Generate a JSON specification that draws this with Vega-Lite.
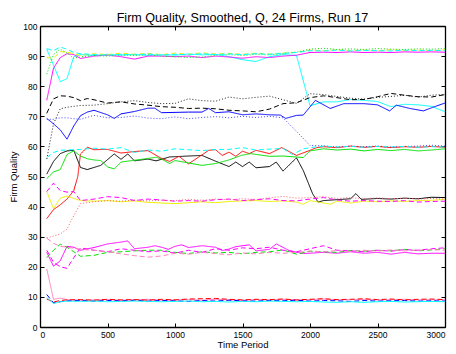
{
"$schema":"https://vega.github.io/schema/vega-lite/v6.json",
"autosize":{"type":"none"},
"width":405,"height":301,
"padding":{"left":40,"top":26,"right":11,"bottom":27},
"background":"white",
"title":{"text":"Firm Quality, Smoothed, Q, 24 Firms, Run 17","fontSize":12.6,"fontWeight":"normal","font":"Liberation Sans","color":"black","anchor":"middle","offset":-3},
"config":{"view":{"stroke":null},"axis":{"labelFont":"Liberation Sans","titleFont":"Liberation Sans","labelColor":"black","titleColor":"black","domainColor":"black","tickColor":"black","grid":false,"labelFontSize":8.5,"titleFontSize":9.5,"titleFontWeight":"normal","domainWidth":1.3,"tickWidth":1}},
"data":{"values":[
{"s":"a","t":50,"q":92.3},{"s":"a","t":100,"q":87},{"s":"a","t":150,"q":81.5},{"s":"a","t":200,"q":82.5},{"s":"a","t":250,"q":89.8},{"s":"a","t":300,"q":90.5},{"s":"a","t":400,"q":90.2},{"s":"a","t":500,"q":90.6},{"s":"a","t":600,"q":90.3},{"s":"a","t":700,"q":90.6},{"s":"a","t":800,"q":90.2},{"s":"a","t":900,"q":90.5},{"s":"a","t":1000,"q":90.3},{"s":"a","t":1100,"q":90.7},{"s":"a","t":1200,"q":90.4},{"s":"a","t":1300,"q":90.6},{"s":"a","t":1400,"q":89.8},{"s":"a","t":1500,"q":88.8},{"s":"a","t":1600,"q":88.2},{"s":"a","t":1700,"q":89.8},{"s":"a","t":1800,"q":90.5},{"s":"a","t":1900,"q":90.2},{"s":"a","t":2000,"q":73.5},{"s":"a","t":2100,"q":74.8},{"s":"a","t":2200,"q":74.8},{"s":"a","t":2300,"q":75.6},{"s":"a","t":2400,"q":75.3},{"s":"a","t":2500,"q":74.9},{"s":"a","t":2600,"q":73.2},{"s":"a","t":2700,"q":74},{"s":"a","t":2800,"q":73.8},{"s":"a","t":2900,"q":73.3},{"s":"a","t":3000,"q":71.5},
{"s":"b","t":50,"q":75.3},{"s":"b","t":100,"q":86},{"s":"b","t":150,"q":89.5},{"s":"b","t":200,"q":90.8},{"s":"b","t":250,"q":90.5},{"s":"b","t":300,"q":89.2},{"s":"b","t":400,"q":90},{"s":"b","t":500,"q":90.3},{"s":"b","t":600,"q":89.8},{"s":"b","t":700,"q":89},{"s":"b","t":800,"q":90},{"s":"b","t":900,"q":90},{"s":"b","t":1000,"q":89.8},{"s":"b","t":1100,"q":90},{"s":"b","t":1200,"q":89.5},{"s":"b","t":1300,"q":90},{"s":"b","t":1400,"q":89.7},{"s":"b","t":1500,"q":89.3},{"s":"b","t":1600,"q":89.8},{"s":"b","t":1700,"q":89.5},{"s":"b","t":1800,"q":90},{"s":"b","t":1900,"q":90.3},{"s":"b","t":2000,"q":91.2},{"s":"b","t":2100,"q":91.3},{"s":"b","t":2200,"q":91.2},{"s":"b","t":2300,"q":91.4},{"s":"b","t":2400,"q":91.2},{"s":"b","t":2500,"q":91.3},{"s":"b","t":2600,"q":91.2},{"s":"b","t":2700,"q":91.4},{"s":"b","t":2800,"q":91.3},{"s":"b","t":2900,"q":91.4},{"s":"b","t":3000,"q":91.3},
{"s":"c","t":50,"q":89.5},{"s":"c","t":100,"q":89.3},{"s":"c","t":150,"q":91.5},{"s":"c","t":200,"q":91.3},{"s":"c","t":250,"q":90.8},{"s":"c","t":300,"q":90.2},{"s":"c","t":400,"q":90.8},{"s":"c","t":500,"q":90.5},{"s":"c","t":600,"q":91},{"s":"c","t":700,"q":90.6},{"s":"c","t":800,"q":90.9},{"s":"c","t":900,"q":90.5},{"s":"c","t":1000,"q":91},{"s":"c","t":1100,"q":90.6},{"s":"c","t":1200,"q":91.1},{"s":"c","t":1300,"q":90.7},{"s":"c","t":1400,"q":90.9},{"s":"c","t":1500,"q":90.6},{"s":"c","t":1600,"q":91},{"s":"c","t":1700,"q":90.7},{"s":"c","t":1800,"q":91},{"s":"c","t":1900,"q":91.3},{"s":"c","t":2000,"q":92},{"s":"c","t":2100,"q":91.8},{"s":"c","t":2200,"q":92.1},{"s":"c","t":2300,"q":91.8},{"s":"c","t":2400,"q":92},{"s":"c","t":2500,"q":91.8},{"s":"c","t":2600,"q":92.1},{"s":"c","t":2700,"q":91.9},{"s":"c","t":2800,"q":92},{"s":"c","t":2900,"q":91.8},{"s":"c","t":3000,"q":92.1},
{"s":"d","t":50,"q":84},{"s":"d","t":100,"q":90.5},{"s":"d","t":150,"q":92.3},{"s":"d","t":200,"q":91},{"s":"d","t":250,"q":89.3},{"s":"d","t":300,"q":89.7},{"s":"d","t":400,"q":90.2},{"s":"d","t":500,"q":90},{"s":"d","t":600,"q":90.4},{"s":"d","t":700,"q":90.2},{"s":"d","t":800,"q":90.5},{"s":"d","t":900,"q":90},{"s":"d","t":1000,"q":89.8},{"s":"d","t":1100,"q":89.5},{"s":"d","t":1200,"q":89.7},{"s":"d","t":1300,"q":90.3},{"s":"d","t":1400,"q":90.5},{"s":"d","t":1500,"q":90.2},{"s":"d","t":1600,"q":90.6},{"s":"d","t":1700,"q":90.4},{"s":"d","t":1800,"q":90.8},{"s":"d","t":1900,"q":91.3},{"s":"d","t":2000,"q":92.3},{"s":"d","t":2100,"q":92.6},{"s":"d","t":2200,"q":92.2},{"s":"d","t":2300,"q":92.4},{"s":"d","t":2400,"q":92.2},{"s":"d","t":2500,"q":92.5},{"s":"d","t":2600,"q":92.3},{"s":"d","t":2700,"q":92.2},{"s":"d","t":2800,"q":92.4},{"s":"d","t":2900,"q":92.3},{"s":"d","t":3000,"q":92.5},
{"s":"e","t":50,"q":92.5},{"s":"e","t":100,"q":91.8},{"s":"e","t":150,"q":93},{"s":"e","t":200,"q":92.3},{"s":"e","t":250,"q":91.2},{"s":"e","t":300,"q":90.8},{"s":"e","t":400,"q":90.5},{"s":"e","t":500,"q":90.3},{"s":"e","t":600,"q":90.6},{"s":"e","t":700,"q":90.4},{"s":"e","t":800,"q":90.7},{"s":"e","t":900,"q":90.3},{"s":"e","t":1000,"q":90.6},{"s":"e","t":1100,"q":90.4},{"s":"e","t":1200,"q":90.8},{"s":"e","t":1300,"q":90.5},{"s":"e","t":1400,"q":90.7},{"s":"e","t":1500,"q":90.5},{"s":"e","t":1600,"q":90.8},{"s":"e","t":1700,"q":90.6},{"s":"e","t":1800,"q":90.9},{"s":"e","t":1900,"q":91.2},{"s":"e","t":2000,"q":91.8},{"s":"e","t":2100,"q":91.7},{"s":"e","t":2200,"q":92},{"s":"e","t":2300,"q":91.7},{"s":"e","t":2400,"q":91.9},{"s":"e","t":2500,"q":91.8},{"s":"e","t":2600,"q":91.7},{"s":"e","t":2700,"q":92},{"s":"e","t":2800,"q":91.8},{"s":"e","t":2900,"q":91.9},{"s":"e","t":3000,"q":91.8},
{"s":"f","t":50,"q":71},{"s":"f","t":100,"q":75.8},{"s":"f","t":150,"q":76.8},{"s":"f","t":200,"q":76.7},{"s":"f","t":250,"q":76.2},{"s":"f","t":300,"q":75.2},{"s":"f","t":350,"q":75.9},{"s":"f","t":400,"q":75.5},{"s":"f","t":500,"q":74.4},{"s":"f","t":600,"q":74.8},{"s":"f","t":700,"q":74.1},{"s":"f","t":800,"q":73.7},{"s":"f","t":900,"q":73.2},{"s":"f","t":1000,"q":73},{"s":"f","t":1100,"q":72.6},{"s":"f","t":1200,"q":72.7},{"s":"f","t":1300,"q":72.5},{"s":"f","t":1400,"q":72},{"s":"f","t":1500,"q":71.8},{"s":"f","t":1600,"q":71.5},{"s":"f","t":1700,"q":72.4},{"s":"f","t":1800,"q":74.2},{"s":"f","t":1900,"q":74.5},{"s":"f","t":2000,"q":76.2},{"s":"f","t":2100,"q":76.8},{"s":"f","t":2200,"q":76.2},{"s":"f","t":2300,"q":75.5},{"s":"f","t":2400,"q":75.6},{"s":"f","t":2500,"q":76.5},{"s":"f","t":2600,"q":77.6},{"s":"f","t":2700,"q":77},{"s":"f","t":2800,"q":76.5},{"s":"f","t":2900,"q":76.4},{"s":"f","t":3000,"q":77.2},
{"s":"g","t":50,"q":55.8},{"s":"g","t":100,"q":67.5},{"s":"g","t":150,"q":72.5},{"s":"g","t":200,"q":73},{"s":"g","t":250,"q":73.3},{"s":"g","t":300,"q":73.6},{"s":"g","t":400,"q":73.7},{"s":"g","t":500,"q":74.2},{"s":"g","t":600,"q":74.8},{"s":"g","t":700,"q":75.2},{"s":"g","t":800,"q":74.6},{"s":"g","t":900,"q":74.2},{"s":"g","t":1000,"q":74.3},{"s":"g","t":1100,"q":75.8},{"s":"g","t":1200,"q":75.2},{"s":"g","t":1300,"q":75},{"s":"g","t":1400,"q":76.4},{"s":"g","t":1500,"q":75.8},{"s":"g","t":1600,"q":76.3},{"s":"g","t":1700,"q":76.7},{"s":"g","t":1800,"q":75.5},{"s":"g","t":1900,"q":74.3},{"s":"g","t":2000,"q":77.5},{"s":"g","t":2100,"q":77.2},{"s":"g","t":2200,"q":76.6},{"s":"g","t":2300,"q":76},{"s":"g","t":2400,"q":75.7},{"s":"g","t":2500,"q":76.3},{"s":"g","t":2600,"q":76.6},{"s":"g","t":2700,"q":77},{"s":"g","t":2800,"q":76.4},{"s":"g","t":2900,"q":77},{"s":"g","t":3000,"q":77.3},
{"s":"h","t":50,"q":69.3},{"s":"h","t":100,"q":67.5},{"s":"h","t":150,"q":65.5},{"s":"h","t":200,"q":62.4},{"s":"h","t":250,"q":66.8},{"s":"h","t":300,"q":70.2},{"s":"h","t":350,"q":71.4},{"s":"h","t":400,"q":72},{"s":"h","t":500,"q":70.5},{"s":"h","t":550,"q":69.3},{"s":"h","t":600,"q":70.8},{"s":"h","t":700,"q":71.6},{"s":"h","t":800,"q":72.7},{"s":"h","t":850,"q":72.7},{"s":"h","t":900,"q":71.2},{"s":"h","t":1000,"q":71.3},{"s":"h","t":1100,"q":71.4},{"s":"h","t":1200,"q":71.4},{"s":"h","t":1250,"q":72.6},{"s":"h","t":1300,"q":71.2},{"s":"h","t":1400,"q":71.5},{"s":"h","t":1500,"q":70.5},{"s":"h","t":1600,"q":70.8},{"s":"h","t":1700,"q":70.5},{"s":"h","t":1780,"q":70.4},{"s":"h","t":1820,"q":69.3},{"s":"h","t":1900,"q":70.3},{"s":"h","t":1950,"q":70.4},{"s":"h","t":2040,"q":75.3},{"s":"h","t":2150,"q":72.6},{"s":"h","t":2250,"q":74.2},{"s":"h","t":2400,"q":74.2},{"s":"h","t":2500,"q":73.8},{"s":"h","t":2590,"q":71.8},{"s":"h","t":2640,"q":73.7},{"s":"h","t":2740,"q":72.6},{"s":"h","t":2840,"q":71.8},{"s":"h","t":2910,"q":73},{"s":"h","t":3000,"q":74.4},
{"s":"i","t":50,"q":69},{"s":"i","t":100,"q":69},{"s":"i","t":150,"q":69.5},{"s":"i","t":200,"q":69.5},{"s":"i","t":250,"q":69.2},{"s":"i","t":300,"q":69},{"s":"i","t":400,"q":70.3},{"s":"i","t":500,"q":69.5},{"s":"i","t":600,"q":69.6},{"s":"i","t":700,"q":70.1},{"s":"i","t":800,"q":69.4},{"s":"i","t":900,"q":69.2},{"s":"i","t":1000,"q":69.8},{"s":"i","t":1100,"q":69.2},{"s":"i","t":1200,"q":69.6},{"s":"i","t":1300,"q":69.9},{"s":"i","t":1400,"q":69.5},{"s":"i","t":1500,"q":70},{"s":"i","t":1600,"q":69.6},{"s":"i","t":1700,"q":70},{"s":"i","t":1800,"q":69.5},{"s":"i","t":1900,"q":65},{"s":"i","t":2000,"q":60.3},{"s":"i","t":2100,"q":60.2},{"s":"i","t":2200,"q":59.8},{"s":"i","t":2300,"q":60.1},{"s":"i","t":2400,"q":59.9},{"s":"i","t":2500,"q":60.1},{"s":"i","t":2600,"q":59.8},{"s":"i","t":2700,"q":60},{"s":"i","t":2800,"q":60.1},{"s":"i","t":2900,"q":60.4},{"s":"i","t":3000,"q":60.1},
{"s":"j","t":50,"q":50.8},{"s":"j","t":100,"q":55},{"s":"j","t":150,"q":57.6},{"s":"j","t":200,"q":58.5},{"s":"j","t":250,"q":58.7},{"s":"j","t":300,"q":53},{"s":"j","t":350,"q":52.3},{"s":"j","t":400,"q":53},{"s":"j","t":450,"q":53.7},{"s":"j","t":550,"q":57.5},{"s":"j","t":600,"q":55.7},{"s":"j","t":650,"q":57.5},{"s":"j","t":700,"q":55.2},{"s":"j","t":800,"q":55.8},{"s":"j","t":860,"q":55.2},{"s":"j","t":960,"q":56.5},{"s":"j","t":1100,"q":56.8},{"s":"j","t":1200,"q":57},{"s":"j","t":1300,"q":55.1},{"s":"j","t":1400,"q":53.3},{"s":"j","t":1450,"q":54.8},{"s":"j","t":1500,"q":53.3},{"s":"j","t":1550,"q":54.8},{"s":"j","t":1600,"q":52.9},{"s":"j","t":1700,"q":53.3},{"s":"j","t":1750,"q":54.8},{"s":"j","t":1800,"q":51.8},{"s":"j","t":1900,"q":56.2},{"s":"j","t":1950,"q":52},{"s":"j","t":2020,"q":44.2},{"s":"j","t":2060,"q":41.5},{"s":"j","t":2100,"q":42},{"s":"j","t":2200,"q":42.3},{"s":"j","t":2300,"q":42.6},{"s":"j","t":2340,"q":44.3},{"s":"j","t":2380,"q":42.4},{"s":"j","t":2500,"q":42.7},{"s":"j","t":2600,"q":42.5},{"s":"j","t":2700,"q":42.8},{"s":"j","t":2800,"q":42.6},{"s":"j","t":2900,"q":43.1},{"s":"j","t":3000,"q":43},
{"s":"k","t":50,"q":36},{"s":"k","t":100,"q":39},{"s":"k","t":150,"q":40.6},{"s":"k","t":200,"q":42.5},{"s":"k","t":250,"q":45.3},{"s":"k","t":280,"q":50},{"s":"k","t":300,"q":57.5},{"s":"k","t":350,"q":59.7},{"s":"k","t":400,"q":58.9},{"s":"k","t":500,"q":59},{"s":"k","t":600,"q":57.8},{"s":"k","t":700,"q":58.3},{"s":"k","t":800,"q":58.6},{"s":"k","t":900,"q":56},{"s":"k","t":960,"q":55},{"s":"k","t":1030,"q":56.7},{"s":"k","t":1100,"q":54.2},{"s":"k","t":1250,"q":58.7},{"s":"k","t":1300,"q":58.9},{"s":"k","t":1350,"q":57},{"s":"k","t":1400,"q":58.1},{"s":"k","t":1450,"q":56.7},{"s":"k","t":1500,"q":58.4},{"s":"k","t":1550,"q":57.6},{"s":"k","t":1600,"q":58.7},{"s":"k","t":1700,"q":57.6},{"s":"k","t":1790,"q":59.6},{"s":"k","t":1900,"q":57},{"s":"k","t":2000,"q":58.7},{"s":"k","t":2050,"q":59.6},{"s":"k","t":2100,"q":59.9},{"s":"k","t":2200,"q":59.6},{"s":"k","t":2300,"q":60.1},{"s":"k","t":2400,"q":59.7},{"s":"k","t":2500,"q":60},{"s":"k","t":2600,"q":59.6},{"s":"k","t":2700,"q":59.9},{"s":"k","t":2800,"q":59.7},{"s":"k","t":2900,"q":60},{"s":"k","t":3000,"q":59.7},
{"s":"l","t":50,"q":49.3},{"s":"l","t":100,"q":51.5},{"s":"l","t":150,"q":52.3},{"s":"l","t":200,"q":57.3},{"s":"l","t":250,"q":58.5},{"s":"l","t":300,"q":56.8},{"s":"l","t":350,"q":55.9},{"s":"l","t":400,"q":55.5},{"s":"l","t":450,"q":55.3},{"s":"l","t":500,"q":53.2},{"s":"l","t":550,"q":52.5},{"s":"l","t":600,"q":54.8},{"s":"l","t":700,"q":55.4},{"s":"l","t":800,"q":56},{"s":"l","t":860,"q":56.4},{"s":"l","t":900,"q":55.8},{"s":"l","t":960,"q":54.3},{"s":"l","t":1000,"q":55.3},{"s":"l","t":1100,"q":54.5},{"s":"l","t":1200,"q":53.7},{"s":"l","t":1300,"q":54.3},{"s":"l","t":1400,"q":55.5},{"s":"l","t":1490,"q":57},{"s":"l","t":1560,"q":57.6},{"s":"l","t":1700,"q":56.7},{"s":"l","t":1800,"q":56.8},{"s":"l","t":1950,"q":56.3},{"s":"l","t":2000,"q":58.5},{"s":"l","t":2100,"q":59.2},{"s":"l","t":2200,"q":58.8},{"s":"l","t":2300,"q":59.1},{"s":"l","t":2400,"q":58.5},{"s":"l","t":2500,"q":59},{"s":"l","t":2600,"q":58.6},{"s":"l","t":2700,"q":59},{"s":"l","t":2800,"q":58.5},{"s":"l","t":2900,"q":58.8},{"s":"l","t":3000,"q":59.2},
{"s":"m","t":50,"q":56.3},{"s":"m","t":100,"q":58},{"s":"m","t":150,"q":58.7},{"s":"m","t":200,"q":58.8},{"s":"m","t":300,"q":59},{"s":"m","t":400,"q":59.4},{"s":"m","t":500,"q":59.1},{"s":"m","t":600,"q":59.6},{"s":"m","t":700,"q":58},{"s":"m","t":800,"q":58.8},{"s":"m","t":900,"q":58.4},{"s":"m","t":1000,"q":59.2},{"s":"m","t":1100,"q":58.9},{"s":"m","t":1200,"q":58.6},{"s":"m","t":1300,"q":59},{"s":"m","t":1400,"q":59},{"s":"m","t":1500,"q":59.6},{"s":"m","t":1600,"q":58.8},{"s":"m","t":1700,"q":59.1},{"s":"m","t":1800,"q":59.3},{"s":"m","t":1870,"q":57.3},{"s":"m","t":1950,"q":59.2},{"s":"m","t":2000,"q":59.6},{"s":"m","t":2100,"q":60.1},{"s":"m","t":2200,"q":59.8},{"s":"m","t":2300,"q":60},{"s":"m","t":2400,"q":59.7},{"s":"m","t":2500,"q":60},{"s":"m","t":2600,"q":59.8},{"s":"m","t":2700,"q":60},{"s":"m","t":2800,"q":59.7},{"s":"m","t":2900,"q":59.9},{"s":"m","t":3000,"q":59.8},
{"s":"n","t":50,"q":45},{"s":"n","t":100,"q":39.3},{"s":"n","t":150,"q":42.8},{"s":"n","t":200,"q":43.5},{"s":"n","t":250,"q":42.7},{"s":"n","t":300,"q":42},{"s":"n","t":400,"q":41.8},{"s":"n","t":500,"q":42},{"s":"n","t":600,"q":41.6},{"s":"n","t":700,"q":41.9},{"s":"n","t":800,"q":41.4},{"s":"n","t":900,"q":41.2},{"s":"n","t":1000,"q":41},{"s":"n","t":1100,"q":41.3},{"s":"n","t":1200,"q":41.6},{"s":"n","t":1300,"q":41.3},{"s":"n","t":1400,"q":41.7},{"s":"n","t":1500,"q":41.9},{"s":"n","t":1600,"q":42},{"s":"n","t":1700,"q":41.7},{"s":"n","t":1800,"q":41.9},{"s":"n","t":1900,"q":41.5},{"s":"n","t":1950,"q":40.8},{"s":"n","t":2000,"q":42},{"s":"n","t":2100,"q":41.2},{"s":"n","t":2150,"q":40.8},{"s":"n","t":2200,"q":41.8},{"s":"n","t":2300,"q":41.2},{"s":"n","t":2400,"q":41.8},{"s":"n","t":2500,"q":41.6},{"s":"n","t":2600,"q":41.9},{"s":"n","t":2700,"q":41.7},{"s":"n","t":2800,"q":42},{"s":"n","t":2900,"q":42.1},{"s":"n","t":3000,"q":42.4},
{"s":"o","t":50,"q":45},{"s":"o","t":100,"q":47.8},{"s":"o","t":150,"q":45.3},{"s":"o","t":200,"q":44.8},{"s":"o","t":250,"q":45},{"s":"o","t":300,"q":42},{"s":"o","t":400,"q":42.5},{"s":"o","t":500,"q":43.3},{"s":"o","t":600,"q":43},{"s":"o","t":700,"q":42},{"s":"o","t":800,"q":42.5},{"s":"o","t":900,"q":42.2},{"s":"o","t":1000,"q":41.8},{"s":"o","t":1100,"q":42},{"s":"o","t":1200,"q":41.8},{"s":"o","t":1300,"q":42.3},{"s":"o","t":1400,"q":42.5},{"s":"o","t":1500,"q":42},{"s":"o","t":1600,"q":42.3},{"s":"o","t":1700,"q":42.6},{"s":"o","t":1800,"q":42},{"s":"o","t":1900,"q":41.9},{"s":"o","t":2000,"q":42.5},{"s":"o","t":2100,"q":43},{"s":"o","t":2200,"q":42.2},{"s":"o","t":2300,"q":41.8},{"s":"o","t":2400,"q":42},{"s":"o","t":2500,"q":41.8},{"s":"o","t":2600,"q":41.7},{"s":"o","t":2700,"q":42},{"s":"o","t":2800,"q":41.5},{"s":"o","t":2900,"q":41.7},{"s":"o","t":3000,"q":41.8},
{"s":"p","t":50,"q":29.6},{"s":"p","t":100,"q":30.2},{"s":"p","t":150,"q":30.9},{"s":"p","t":200,"q":32.5},{"s":"p","t":230,"q":35.3},{"s":"p","t":300,"q":41},{"s":"p","t":400,"q":41.6},{"s":"p","t":500,"q":42},{"s":"p","t":600,"q":41.8},{"s":"p","t":700,"q":42.2},{"s":"p","t":800,"q":41.9},{"s":"p","t":900,"q":42.1},{"s":"p","t":1000,"q":42},{"s":"p","t":1100,"q":42.4},{"s":"p","t":1200,"q":42.1},{"s":"p","t":1300,"q":42.5},{"s":"p","t":1400,"q":42.3},{"s":"p","t":1500,"q":42.6},{"s":"p","t":1600,"q":42.4},{"s":"p","t":1700,"q":42.9},{"s":"p","t":1800,"q":43.4},{"s":"p","t":1900,"q":42.8},{"s":"p","t":2000,"q":43},{"s":"p","t":2100,"q":43.3},{"s":"p","t":2200,"q":42.7},{"s":"p","t":2300,"q":43},{"s":"p","t":2400,"q":42.6},{"s":"p","t":2500,"q":42.9},{"s":"p","t":2600,"q":42.6},{"s":"p","t":2700,"q":42.8},{"s":"p","t":2800,"q":42.5},{"s":"p","t":2900,"q":42.7},{"s":"p","t":3000,"q":42.5},
{"s":"q","t":50,"q":24.8},{"s":"q","t":100,"q":20.2},{"s":"q","t":150,"q":22},{"s":"q","t":200,"q":26.8},{"s":"q","t":250,"q":26.5},{"s":"q","t":300,"q":25.5},{"s":"q","t":400,"q":26.4},{"s":"q","t":500,"q":27.6},{"s":"q","t":600,"q":28.2},{"s":"q","t":650,"q":28.6},{"s":"q","t":700,"q":26},{"s":"q","t":800,"q":26.5},{"s":"q","t":850,"q":27},{"s":"q","t":900,"q":26.5},{"s":"q","t":950,"q":25.8},{"s":"q","t":1000,"q":26.8},{"s":"q","t":1050,"q":27.3},{"s":"q","t":1100,"q":26.4},{"s":"q","t":1200,"q":27},{"s":"q","t":1300,"q":26.5},{"s":"q","t":1350,"q":25.4},{"s":"q","t":1400,"q":25.9},{"s":"q","t":1450,"q":26.7},{"s":"q","t":1550,"q":27.3},{"s":"q","t":1600,"q":25.3},{"s":"q","t":1700,"q":25.8},{"s":"q","t":1750,"q":27.6},{"s":"q","t":1850,"q":25.3},{"s":"q","t":1950,"q":24.4},{"s":"q","t":2100,"q":24.8},{"s":"q","t":2200,"q":24.5},{"s":"q","t":2300,"q":25},{"s":"q","t":2400,"q":24.5},{"s":"q","t":2500,"q":24.8},{"s":"q","t":2600,"q":24.2},{"s":"q","t":2700,"q":24.8},{"s":"q","t":2800,"q":24.3},{"s":"q","t":2900,"q":24.5},{"s":"q","t":3000,"q":24.5},
{"s":"r","t":50,"q":23},{"s":"r","t":100,"q":25.5},{"s":"r","t":150,"q":27.5},{"s":"r","t":200,"q":26.5},{"s":"r","t":250,"q":25},{"s":"r","t":300,"q":23.5},{"s":"r","t":400,"q":23.8},{"s":"r","t":500,"q":24.8},{"s":"r","t":600,"q":25},{"s":"r","t":700,"q":25.3},{"s":"r","t":800,"q":25.5},{"s":"r","t":900,"q":25.5},{"s":"r","t":1000,"q":24.8},{"s":"r","t":1100,"q":24.4},{"s":"r","t":1200,"q":25},{"s":"r","t":1300,"q":24.6},{"s":"r","t":1400,"q":24.8},{"s":"r","t":1500,"q":24.3},{"s":"r","t":1600,"q":24.8},{"s":"r","t":1700,"q":25},{"s":"r","t":1800,"q":25.6},{"s":"r","t":1900,"q":24.2},{"s":"r","t":2000,"q":25.2},{"s":"r","t":2100,"q":25},{"s":"r","t":2200,"q":24.8},{"s":"r","t":2300,"q":25.4},{"s":"r","t":2400,"q":25.2},{"s":"r","t":2500,"q":25.5},{"s":"r","t":2600,"q":25.3},{"s":"r","t":2700,"q":25.8},{"s":"r","t":2800,"q":25.3},{"s":"r","t":2900,"q":25.6},{"s":"r","t":3000,"q":26},
{"s":"s","t":50,"q":25.5},{"s":"s","t":100,"q":21.5},{"s":"s","t":150,"q":20},{"s":"s","t":200,"q":19.5},{"s":"s","t":250,"q":23},{"s":"s","t":300,"q":26.3},{"s":"s","t":400,"q":25.5},{"s":"s","t":500,"q":25},{"s":"s","t":600,"q":26},{"s":"s","t":700,"q":25.5},{"s":"s","t":800,"q":25},{"s":"s","t":900,"q":25.3},{"s":"s","t":1000,"q":24.5},{"s":"s","t":1100,"q":25.5},{"s":"s","t":1200,"q":24.8},{"s":"s","t":1300,"q":26},{"s":"s","t":1400,"q":25.5},{"s":"s","t":1500,"q":26.3},{"s":"s","t":1600,"q":26},{"s":"s","t":1700,"q":26.5},{"s":"s","t":1800,"q":25.5},{"s":"s","t":1900,"q":25},{"s":"s","t":2000,"q":26},{"s":"s","t":2100,"q":27},{"s":"s","t":2200,"q":25.5},{"s":"s","t":2300,"q":25.3},{"s":"s","t":2400,"q":25},{"s":"s","t":2500,"q":25.5},{"s":"s","t":2600,"q":25.2},{"s":"s","t":2700,"q":25.7},{"s":"s","t":2800,"q":25.5},{"s":"s","t":2900,"q":26},{"s":"s","t":3000,"q":26.3},
{"s":"t","t":50,"q":29.5},{"s":"t","t":100,"q":27.8},{"s":"t","t":150,"q":26.8},{"s":"t","t":200,"q":26.5},{"s":"t","t":300,"q":25.8},{"s":"t","t":400,"q":25.5},{"s":"t","t":500,"q":25},{"s":"t","t":600,"q":24.3},{"s":"t","t":700,"q":23.7},{"s":"t","t":800,"q":23.2},{"s":"t","t":900,"q":23.6},{"s":"t","t":1000,"q":24.5},{"s":"t","t":1100,"q":24.2},{"s":"t","t":1200,"q":24.8},{"s":"t","t":1300,"q":24.4},{"s":"t","t":1400,"q":24},{"s":"t","t":1500,"q":24.6},{"s":"t","t":1600,"q":24.3},{"s":"t","t":1700,"q":24.8},{"s":"t","t":1800,"q":24.5},{"s":"t","t":1900,"q":24.8},{"s":"t","t":2000,"q":25.2},{"s":"t","t":2100,"q":25},{"s":"t","t":2200,"q":25.4},{"s":"t","t":2300,"q":25.1},{"s":"t","t":2400,"q":25.5},{"s":"t","t":2500,"q":25.2},{"s":"t","t":2600,"q":25.6},{"s":"t","t":2700,"q":25.3},{"s":"t","t":2800,"q":25.5},{"s":"t","t":2900,"q":25.7},{"s":"t","t":3000,"q":25.5},
{"s":"u","t":50,"q":19.3},{"s":"u","t":100,"q":9.2},{"s":"u","t":150,"q":9.6},{"s":"u","t":200,"q":9.1},{"s":"u","t":300,"q":8.9},{"s":"u","t":400,"q":9},{"s":"u","t":500,"q":9.1},{"s":"u","t":600,"q":8.9},{"s":"u","t":700,"q":9},{"s":"u","t":800,"q":9.2},{"s":"u","t":900,"q":8.9},{"s":"u","t":1000,"q":9},{"s":"u","t":1100,"q":9.1},{"s":"u","t":1200,"q":8.9},{"s":"u","t":1300,"q":9.2},{"s":"u","t":1400,"q":9},{"s":"u","t":1500,"q":8.9},{"s":"u","t":1600,"q":9.1},{"s":"u","t":1700,"q":9},{"s":"u","t":1800,"q":9.2},{"s":"u","t":1900,"q":9},{"s":"u","t":2000,"q":9.1},{"s":"u","t":2100,"q":9.3},{"s":"u","t":2200,"q":9},{"s":"u","t":2300,"q":9.1},{"s":"u","t":2400,"q":9.2},{"s":"u","t":2500,"q":9},{"s":"u","t":2600,"q":9.1},{"s":"u","t":2700,"q":9.2},{"s":"u","t":2800,"q":9},{"s":"u","t":2900,"q":9.1},{"s":"u","t":3000,"q":9},
{"s":"v","t":50,"q":10.8},{"s":"v","t":100,"q":8},{"s":"v","t":150,"q":8.4},{"s":"v","t":200,"q":8.7},{"s":"v","t":300,"q":8.8},{"s":"v","t":400,"q":8.6},{"s":"v","t":500,"q":8.8},{"s":"v","t":600,"q":8.7},{"s":"v","t":700,"q":8.9},{"s":"v","t":800,"q":8.6},{"s":"v","t":900,"q":8.8},{"s":"v","t":1000,"q":8.7},{"s":"v","t":1100,"q":8.5},{"s":"v","t":1200,"q":8.8},{"s":"v","t":1300,"q":8.6},{"s":"v","t":1400,"q":8.9},{"s":"v","t":1500,"q":8.7},{"s":"v","t":1600,"q":8.6},{"s":"v","t":1700,"q":8.8},{"s":"v","t":1800,"q":8.7},{"s":"v","t":1900,"q":8.9},{"s":"v","t":2000,"q":8.6},{"s":"v","t":2100,"q":8.8},{"s":"v","t":2200,"q":8.7},{"s":"v","t":2300,"q":8.5},{"s":"v","t":2400,"q":8.8},{"s":"v","t":2500,"q":8.6},{"s":"v","t":2600,"q":8.7},{"s":"v","t":2700,"q":8.8},{"s":"v","t":2800,"q":8.6},{"s":"v","t":2900,"q":8.7},{"s":"v","t":3000,"q":8.6},
{"s":"w","t":50,"q":9.3},{"s":"w","t":100,"q":8.3},{"s":"w","t":150,"q":8.8},{"s":"w","t":200,"q":9},{"s":"w","t":300,"q":9.1},{"s":"w","t":400,"q":8.9},{"s":"w","t":500,"q":9.2},{"s":"w","t":600,"q":9},{"s":"w","t":700,"q":9.1},{"s":"w","t":800,"q":8.9},{"s":"w","t":900,"q":9.2},{"s":"w","t":1000,"q":9},{"s":"w","t":1100,"q":9.3},{"s":"w","t":1200,"q":9.4},{"s":"w","t":1300,"q":9.5},{"s":"w","t":1400,"q":9.2},{"s":"w","t":1500,"q":9},{"s":"w","t":1600,"q":9.2},{"s":"w","t":1700,"q":9.1},{"s":"w","t":1800,"q":9.3},{"s":"w","t":1900,"q":9},{"s":"w","t":2000,"q":9.2},{"s":"w","t":2100,"q":9.4},{"s":"w","t":2200,"q":9.1},{"s":"w","t":2300,"q":9.2},{"s":"w","t":2400,"q":9.4},{"s":"w","t":2500,"q":9.1},{"s":"w","t":2600,"q":9.3},{"s":"w","t":2700,"q":9},{"s":"w","t":2800,"q":9.2},{"s":"w","t":2900,"q":9.3},{"s":"w","t":3000,"q":9.1},
{"s":"x","t":50,"q":9.8},{"s":"x","t":100,"q":7.8},{"s":"x","t":150,"q":8.4},{"s":"x","t":200,"q":8.6},{"s":"x","t":300,"q":8.5},{"s":"x","t":400,"q":8.6},{"s":"x","t":500,"q":8.4},{"s":"x","t":600,"q":8.5},{"s":"x","t":700,"q":8.6},{"s":"x","t":800,"q":8.5},{"s":"x","t":900,"q":8.4},{"s":"x","t":1000,"q":8.5},{"s":"x","t":1100,"q":8.6},{"s":"x","t":1200,"q":8.4},{"s":"x","t":1300,"q":8.5},{"s":"x","t":1400,"q":8.3},{"s":"x","t":1500,"q":8.5},{"s":"x","t":1600,"q":8.4},{"s":"x","t":1700,"q":8.6},{"s":"x","t":1800,"q":8.5},{"s":"x","t":1900,"q":8.4},{"s":"x","t":2000,"q":8.5},{"s":"x","t":2100,"q":8.3},{"s":"x","t":2200,"q":8.2},{"s":"x","t":2300,"q":8.4},{"s":"x","t":2400,"q":8.2},{"s":"x","t":2500,"q":8.4},{"s":"x","t":2600,"q":8.5},{"s":"x","t":2700,"q":8.3},{"s":"x","t":2800,"q":8.4},{"s":"x","t":2900,"q":8.5},{"s":"x","t":3000,"q":8.4}
]},
"layer":[
{"mark":{"type":"line","strokeWidth":1,"clip":true},
"encoding":{
"x":{"field":"t","type":"quantitative","scale":{"domain":[0,3000],"nice":false},"axis":{"orient":"bottom","values":[0,500,1000,1500,2000,2500,3000],"format":"d","tickSize":-4,"labelPadding":7,"title":"Time Period","titlePadding":1}},
"y":{"field":"q","type":"quantitative","scale":{"domain":[0,100],"nice":false},"axis":{"orient":"left","values":[0,10,20,30,40,50,60,70,80,90,100],"tickSize":-4,"labelPadding":7,"title":"Firm Quality","titlePadding":4}},
"detail":{"field":"s"},
"color":{"field":"s","type":"nominal","legend":null,"scale":{"domain":["a","b","c","d","e","f","g","h","i","j","k","l","m","n","o","p","q","r","s","t","u","v","w","x"],"range":["#00ffff","#ff00ff","#eeee00","#00e000","#00ffff","#000000","#222222","#0000ff","#4444ff","#000000","#ff0000","#00e000","#00ffff","#eeee00","#ff00ff","#ff6070","#ff00ff","#00e000","#ff00ff","#ff80c0","#ff80c0","#0000ff","#ff0000","#00ffff"]}},
"strokeDash":{"field":"s","type":"nominal","legend":null,"scale":{"domain":["a","b","c","d","e","f","g","h","i","j","k","l","m","n","o","p","q","r","s","t","u","v","w","x"],"range":[[1,0],[1,0],[5,3],[1,2],[5,3],[5,3],[1,2],[1,0],[1,2],[1,0],[1,0],[1,0],[5,3],[1,0],[5,3],[1,2],[1,0],[5,3],[5,3],[5,3],[1,0],[5,3],[5,3],[1,0]]}}
}},
{"mark":{"type":"line","opacity":0},
"encoding":{
"x":{"field":"t","type":"quantitative","axis":{"orient":"top","values":[0,500,1000,1500,2000,2500,3000],"tickSize":-4,"labels":false,"title":null}},
"y":{"field":"q","type":"quantitative","axis":{"orient":"right","values":[0,10,20,30,40,50,60,70,80,90,100],"tickSize":-4,"labels":false,"title":null}},
"detail":{"field":"s"}
}}
],
"resolve":{"axis":{"x":"independent","y":"independent"}}
}
